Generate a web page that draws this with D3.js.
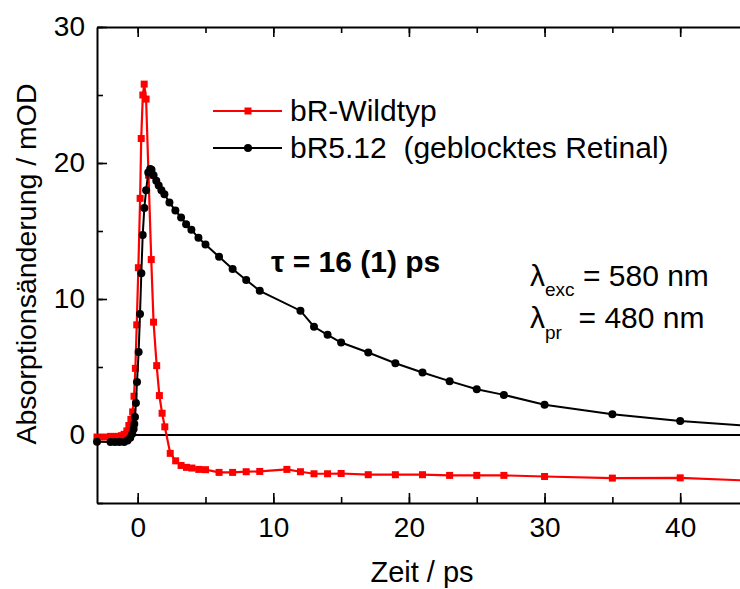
<!DOCTYPE html>
<meta charset="utf-8">
<style>
body { margin: 0; background: #fff; }
text { font-family: "Liberation Sans", Arial, sans-serif; }
</style>
<body>
<script src="https://cdn.jsdelivr.net/npm/d3@7"></script>
<script>

// bR-Wildtyp (red, squares)
var wtTime = [-3, -2.5, -2, -1.5, -1.2, -1, -0.8, -0.65, -0.5, -0.37, -0.27, -0.17, -0.07, 0.05, 0.18, 0.26, 0.38, 0.48, 0.62, 0.8,
  1.0, 1.17, 1.4, 1.6, 1.8, 2.0, 2.4, 2.8, 3.2, 3.6, 4.0, 4.5, 5, 6, 7, 8, 9, 11, 12, 13, 14, 15, 17, 19, 21, 23, 25, 27, 30, 35, 40, 45];
var wtSignal = [-0.15, -0.15, -0.1, -0.1, -0.05, 0.05, 0.3, 0.7, 1.15, 1.7, 2.85, 4.9, 8.1, 12.3, 17.4, 21.8, 25.0, 25.8, 24.7, 19.1,
  12.9, 8.3, 5.1, 2.9, 1.6, 0.6, -1.35, -1.9, -2.24, -2.38, -2.43, -2.53, -2.55, -2.75, -2.75, -2.7, -2.68, -2.53, -2.7, -2.85, -2.85, -2.83, -2.92, -2.92, -2.92, -2.97, -2.97, -2.97, -3.05, -3.17, -3.15, -3.35];

// bR5.12 (black, circles)
var blTime = [-3, -2, -1.67, -1.35, -1.0, -0.75, -0.55, -0.4, -0.3, -0.25, -0.2, -0.13, -0.05, 0.07, 0.17, 0.27, 0.37, 0.49, 0.62, 0.78,
  0.92, 1.02, 1.17, 1.37, 1.55, 1.75, 1.97, 2.34, 2.78, 3.2, 3.57, 3.96, 4.48, 5, 6, 7, 8, 9, 12, 13, 14, 15, 17, 19, 21, 23, 25, 27, 30, 35, 40, 45];
var blSignal = [-0.5, -0.52, -0.52, -0.52, -0.52, -0.4, -0.2, 0.1, 0.44, 0.8, 1.33, 2.36, 3.9, 6.1, 8.9, 11.9, 14.7, 16.7, 18.0, 19.3,
  19.55, 19.5, 19.1, 18.7, 18.35, 18.0, 17.7, 17.1, 16.5, 16.0, 15.5, 15.1, 14.5, 14.0, 13.1, 12.2, 11.4, 10.6, 9.14, 7.96, 7.37, 6.8, 6.07, 5.28, 4.6, 3.96, 3.37, 2.95, 2.23, 1.52, 1.03, 0.68];

var seriesNames = ["bR-Wildtyp", "bR5.12  (geblocktes Retinal)"];
var xTicks = [0, 10, 20, 30, 40];
var yTicks = [0, 10, 20, 30];

var width = 740, height = 589;
var pLeft = 97, pTop = 27, pRight = 748, pBottom = 503;

var svg = d3.select("body").append("svg")
    .attr("width", width)
    .attr("height", height);

var x = d3.scaleLinear().domain([-3, 45]).range([pLeft, pRight]);
var y = d3.scaleLinear().domain([-5, 30]).range([pBottom, pTop]);

// zero line
svg.append("line")
  .attr("x1", pLeft).attr("x2", pRight)
  .attr("y1", y(0)).attr("y2", y(0))
  .attr("stroke", "#000").attr("stroke-width", 2.2);

// axes, ticks pointing inwards
function styleAxis(g) {
  g.select(".domain").attr("stroke-width", 2);
  g.selectAll(".tick line").attr("stroke-width", 1.6);
  g.selectAll(".tick text").attr("font-size", 28).attr("fill", "#000")
    .style("font-family", "'Liberation Sans', Arial, sans-serif");
}

var xMinor = d3.range(0, 46, 5);
var yMinor = d3.range(-5, 31, 5);

svg.append("g").attr("transform", "translate(0," + pBottom + ")")
  .call(d3.axisBottom(x).tickValues(xMinor).tickSize(-6).tickSizeOuter(0).tickFormat(""))
  .call(styleAxis);
svg.append("g").attr("transform", "translate(0," + pBottom + ")")
  .call(d3.axisBottom(x).tickValues(xTicks).tickSize(-10).tickSizeOuter(0).tickPadding(14).tickFormat(d3.format("d")))
  .call(styleAxis)
  .select(".domain").remove();

svg.append("g").attr("transform", "translate(0," + pTop + ")")
  .call(d3.axisTop(x).tickValues(xMinor).tickSize(-6).tickSizeOuter(0).tickFormat(""))
  .call(styleAxis);
svg.append("g").attr("transform", "translate(0," + pTop + ")")
  .call(d3.axisTop(x).tickValues(xTicks).tickSize(-10).tickSizeOuter(0).tickFormat(""))
  .call(styleAxis)
  .select(".domain").remove();

svg.append("g").attr("transform", "translate(" + pLeft + ",0)")
  .call(d3.axisLeft(y).tickValues(yMinor).tickSize(-6).tickSizeOuter(0).tickFormat(""))
  .call(styleAxis);
svg.append("g").attr("transform", "translate(" + pLeft + ",0)")
  .call(d3.axisLeft(y).tickValues(yTicks).tickSize(-10).tickSizeOuter(0).tickPadding(12).tickFormat(d3.format("d")))
  .call(styleAxis)
  .select(".domain").remove();

// axis titles
svg.append("text")
  .attr("x", 422).attr("y", 582)
  .attr("text-anchor", "middle").attr("font-size", 29)
  .text("Zeit / ps");

svg.append("text")
  .attr("transform", "translate(36,264) rotate(-90)")
  .attr("text-anchor", "middle").attr("font-size", 28.5)
  .text("Absorptionsänderung / mOD");

// data
var wt = wtTime.map(function(t, i) { return [t, wtSignal[i]]; });
var bl = blTime.map(function(t, i) { return [t, blSignal[i]]; });

var line = d3.line()
  .x(function(d) { return x(d[0]); })
  .y(function(d) { return y(d[1]); });

svg.append("path").datum(wt)
  .attr("d", line).attr("fill", "none")
  .attr("stroke", "#ff0000").attr("stroke-width", 2.2);

svg.selectAll(".wt").data(wt).enter().append("rect")
  .attr("class", "wt")
  .attr("x", function(d) { return x(d[0]) - 3.5; })
  .attr("y", function(d) { return y(d[1]) - 3.5; })
  .attr("width", 7).attr("height", 7)
  .attr("fill", "#ff0000");

svg.append("path").datum(bl)
  .attr("d", line).attr("fill", "none")
  .attr("stroke", "#000").attr("stroke-width", 2);

svg.selectAll(".bl").data(bl).enter().append("circle")
  .attr("class", "bl")
  .attr("cx", function(d) { return x(d[0]); })
  .attr("cy", function(d) { return y(d[1]); })
  .attr("r", 4)
  .attr("fill", "#000");

// legend
var legend = svg.append("g");
var legendColors = ["#ff0000", "#000"];
seriesNames.forEach(function(name, i) {
  var ly = 111 + i * 37;
  legend.append("line")
    .attr("x1", 213).attr("x2", 282).attr("y1", ly).attr("y2", ly)
    .attr("stroke", legendColors[i]).attr("stroke-width", 2);
  if (i == 0) {
    legend.append("rect").attr("x", 244.5).attr("y", ly - 3.5)
      .attr("width", 7).attr("height", 7).attr("fill", legendColors[i]);
  } else {
    legend.append("circle").attr("cx", 248).attr("cy", ly).attr("r", 4)
      .attr("fill", legendColors[i]);
  }
  legend.append("text")
    .attr("x", 290).attr("y", ly + 10)
    .attr("font-size", 30)
    .style("white-space", "pre")
    .text(name);
});

// annotations
svg.append("text")
  .attr("x", 271).attr("y", 272)
  .attr("font-size", 30).attr("font-weight", "bold")
  .text("τ = 16 (1) ps");

var l1 = svg.append("text").attr("x", 530).attr("y", 286).attr("font-size", 30);
l1.append("tspan").text("λ");
l1.append("tspan").attr("font-size", 19).attr("dy", 10).text("exc");
l1.append("tspan").attr("dy", -10).text(" = 580 nm");

var l2 = svg.append("text").attr("x", 530).attr("y", 328).attr("font-size", 30);
l2.append("tspan").text("λ");
l2.append("tspan").attr("font-size", 19).attr("dy", 11).text("pr");
l2.append("tspan").attr("dy", -11).style("white-space", "pre").text("  = 480 nm");

</script>
</body>
